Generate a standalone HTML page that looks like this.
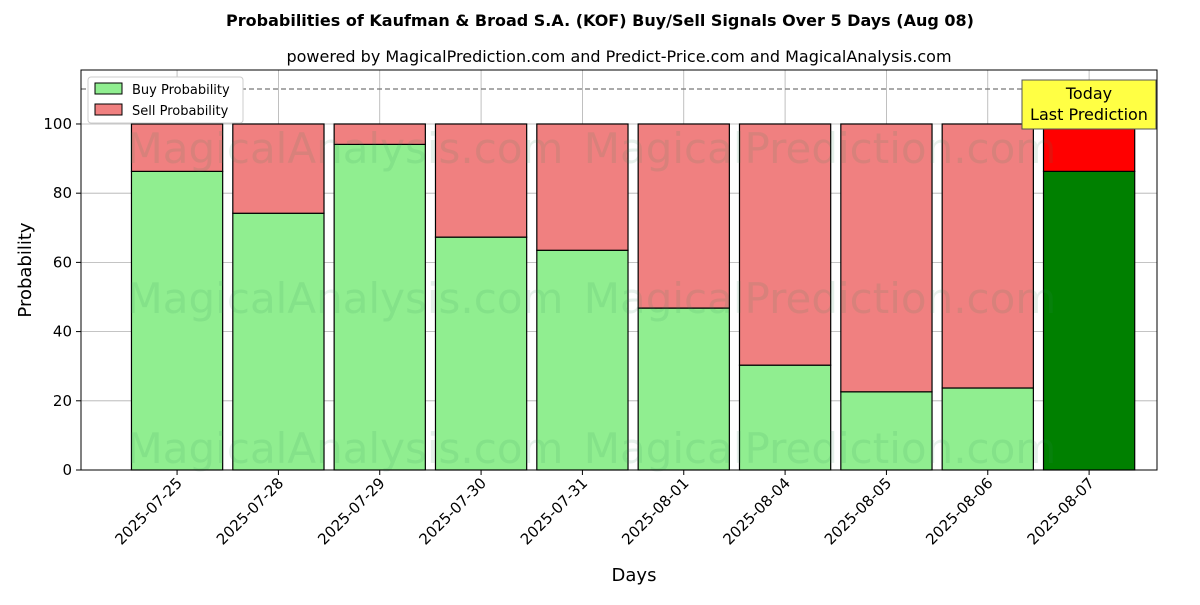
<!DOCTYPE html>
<html><head><meta charset="utf-8"><style>
body{margin:0;background:#fff;font-family:"Liberation Sans","DejaVu Sans",sans-serif}
</style></head><body>
<svg id="c" width="1200" height="600" xmlns="http://www.w3.org/2000/svg" font-family="DejaVu Sans, Liberation Sans, sans-serif">
<text x="600" y="26" text-anchor="middle" font-size="16" font-weight="bold">Probabilities of Kaufman &amp; Broad S.A. (KOF) Buy/Sell Signals Over 5 Days (Aug 08)</text>
<text x="619" y="62" text-anchor="middle" font-size="16">powered by MagicalPrediction.com and Predict-Price.com and MagicalAnalysis.com</text>
<g id="grid"></g>
<g id="bars"></g>
<g id="wm" font-size="42" fill="#2e8b57" fill-opacity="0.12">
<text x="345" y="163" text-anchor="middle">MagicalAnalysis.com</text>
<text x="820" y="163" text-anchor="middle">MagicalPrediction.com</text>
<text x="345" y="313" text-anchor="middle">MagicalAnalysis.com</text>
<text x="820" y="313" text-anchor="middle">MagicalPrediction.com</text>
<text x="345" y="463" text-anchor="middle">MagicalAnalysis.com</text>
<text x="820" y="463" text-anchor="middle">MagicalPrediction.com</text>
</g>
<line x1="81" x2="1157" y1="89" y2="89" stroke="#777" stroke-dasharray="5,3" stroke-width="1.2"/>
<rect x="81" y="70" width="1076" height="400" fill="none" stroke="#000" stroke-width="1"/>
<g id="axes" font-size="15"></g>
<text x="634" y="581" text-anchor="middle" font-size="18">Days</text>
<text transform="translate(31,270) rotate(-90)" text-anchor="middle" font-size="18">Probability</text>
<g>
<rect x="88" y="77" width="155" height="46" fill="#fff" stroke="#ccc" rx="3"/>
<rect x="95" y="83" width="27" height="11" fill="#90ee90" stroke="#000"/>
<text x="132" y="94" font-size="13">Buy Probability</text>
<rect x="95" y="104" width="27" height="11" fill="#f08080" stroke="#000"/>
<text x="132" y="115" font-size="13">Sell Probability</text>
</g>
<g>
<rect x="1022" y="80" width="134" height="49" fill="#ffff44" stroke="#555"/>
<text x="1089" y="99" text-anchor="middle" font-size="16">Today</text>
<text x="1089" y="120" text-anchor="middle" font-size="16">Last Prediction</text>
</g>
</svg>
<script>
const categories=["2025-07-25","2025-07-28","2025-07-29","2025-07-30","2025-07-31","2025-08-01","2025-08-04","2025-08-05","2025-08-06","2025-08-07"];
const buyValues=[86.3,74.2,94.1,67.3,63.5,46.8,30.3,22.6,23.7,86.3];
const sellValues=buyValues.map(v=>100-v);
const yTicks=[0,20,40,60,80,100];
const NS="http://www.w3.org/2000/svg";
const X0=81,X1=1157,Y0=470,Y1=70,xmin=-0.948,xmax=9.67,ymin=0,ymax=115.6;
const xs=i=>X0+(i-xmin)/(xmax-xmin)*(X1-X0);
const ys=v=>Y0-(v-ymin)/(ymax-ymin)*(Y0-Y1);
const bw=0.9*(X1-X0)/(xmax-xmin);
function mk(t,a,p){const e=document.createElementNS(NS,t);for(const k in a)e.setAttribute(k,a[k]);p.appendChild(e);return e;}
const g=document.getElementById('grid'),b=document.getElementById('bars'),ax=document.getElementById('axes');
yTicks.forEach(v=>{
 const l=mk('line',{x1:X0,x2:X1,y1:ys(v),y2:ys(v),stroke:'#b0b0b0','stroke-width':0.8},g);
 
 
 mk('line',{x1:X0-5,x2:X0,y1:ys(v),y2:ys(v),stroke:'#000'},ax);
 const t=mk('text',{x:X0-9,y:ys(v)+5,'text-anchor':'end'},ax);t.textContent=v;
 
 
});
categories.forEach((c,i)=>{
 const x=xs(i);
 const l=mk('line',{x1:x,x2:x,y1:Y1,y2:Y0,stroke:'#b0b0b0','stroke-width':0.8},g);
 
 
 const last=i===categories.length-1;
 const r1=mk('rect',{x:x-bw/2,y:ys(buyValues[i]),width:bw,height:ys(0)-ys(buyValues[i]),fill:last?'#008000':'#90ee90',stroke:'#000','stroke-width':1.2},b);
 
 
 const r2=mk('rect',{x:x-bw/2,y:ys(100),width:bw,height:ys(buyValues[i])-ys(100),fill:last?'#ff0000':'#f08080',stroke:'#000','stroke-width':1.2},b);
 
 
 mk('line',{x1:x,x2:x,y1:Y0,y2:Y0+5,stroke:'#000'},ax);
 const t=mk('text',{x:x+6,y:Y0+14,'text-anchor':'end',transform:`rotate(-45 ${x+6} ${Y0+14})`},ax);t.textContent=c;
 
 
});
</script>
</body></html>
